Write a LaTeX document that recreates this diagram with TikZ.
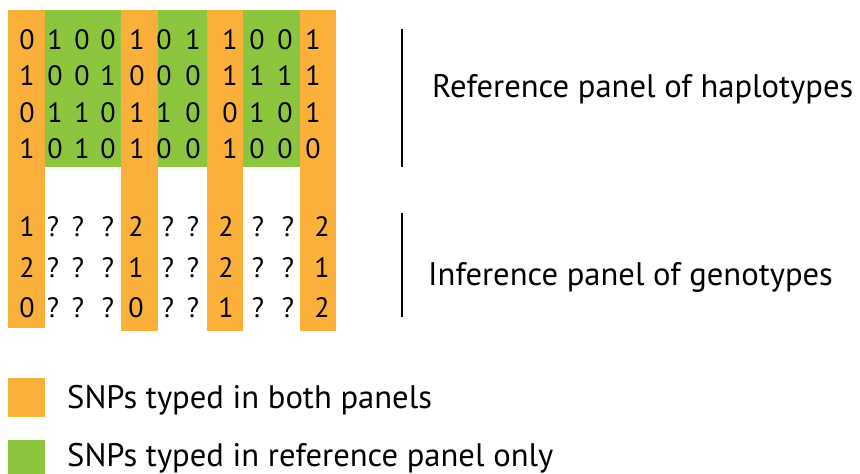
\documentclass[tikz,border=0pt]{standalone}
\usepackage{fontspec}
\setmainfont{PT Sans}
\usetikzlibrary{positioning}

\definecolor{snpboth}{HTML}{FBB03B}
\definecolor{snpref}{HTML}{8CC63F}

\tikzset{
	digit/.style={inner sep=0pt, anchor=base, font=\fontsize{28}{28}\selectfont},
	panel label/.style={inner sep=0pt, anchor=base west, font=\fontsize{32.6}{32.6}\selectfont},
	legend box/.style={inner sep=0pt, minimum width=37pt, minimum height=39pt},
	bracket/.style={line width=1.5pt}
}

\begin{document}
\begin{tikzpicture}[x=1pt,y=-1pt]
	\useasboundingbox (0,0) rectangle (860,474);

	%% SNP COLUMNS
	\fill[snpref] (45,10) rectangle (121,167);
	\fill[snpref] (158,10) rectangle (207,167);
	\fill[snpref] (243,10) rectangle (300,167);
	\fill[snpboth] (8,10) rectangle (45,328);
	\fill[snpboth] (121,10) rectangle (158,331);
	\fill[snpboth] (207,10) rectangle (243,331);
	\fill[snpboth] (300,10) rectangle (336,331);

	%% REFERENCE PANEL (haplotypes)
	\foreach \row/\y/\vals in {
		1/49/{0,1,0,0,1,0,1,1,0,0,1},
		2/85/{1,0,0,1,0,0,0,1,1,1,1},
		3/122/{0,1,1,0,1,1,0,0,1,0,1},
		4/158/{1,0,1,0,1,0,0,1,0,0,0}}{
		\foreach \v [count=\c] in \vals {
			\pgfmathsetmacro{\x}{{27,55,82,108,137,164,193,230,257,285,313}[\c-1]}
			\node[digit] (hap_\row_\c) at (\x,\y) {\v};
		}
	}

	%% INFERENCE PANEL (genotypes)
	\foreach \row/\y/\vals in {
		1/236/{1,?,?,?,2,?,?,2,?,?,2},
		2/277/{2,?,?,?,1,?,?,2,?,?,1},
		3/317/{0,?,?,?,0,?,?,1,?,?,2}}{
		\foreach \v [count=\c] in \vals {
			\pgfmathsetmacro{\x}{{27,53,78,108,136,168,193,226,258,288,322}[\c-1]}
			\node[digit] (geno_\row_\c) at (\x,\y) {\v};
		}
	}

	%% PANEL LABELS
	\coordinate (ref_top) at (402,29);
	\coordinate (ref_bot) at (402,167);
	\coordinate (inf_top) at (402,213);
	\coordinate (inf_bot) at (402,317);
	\draw[bracket] (ref_top) -- (ref_bot);
	\draw[bracket] (inf_top) -- (inf_bot);
	\node[panel label] (label_ref) at (432,97) {Reference panel of haplotypes};
	\node[panel label] (label_inf) at (428,285) {Inference panel of genotypes};

	%% LEGEND
	\node[legend box, fill=snpboth] (legend_both) at (26.5,397.5) {};
	\node[legend box, fill=snpref] (legend_ref) at (26.5,459.5) {};
	\node[panel label] (legend_both_text) at (67,408) {SNPs typed in both panels};
	\node[panel label] (legend_ref_text) at (67,466) {SNPs typed in reference panel only};
\end{tikzpicture}
\end{document}
